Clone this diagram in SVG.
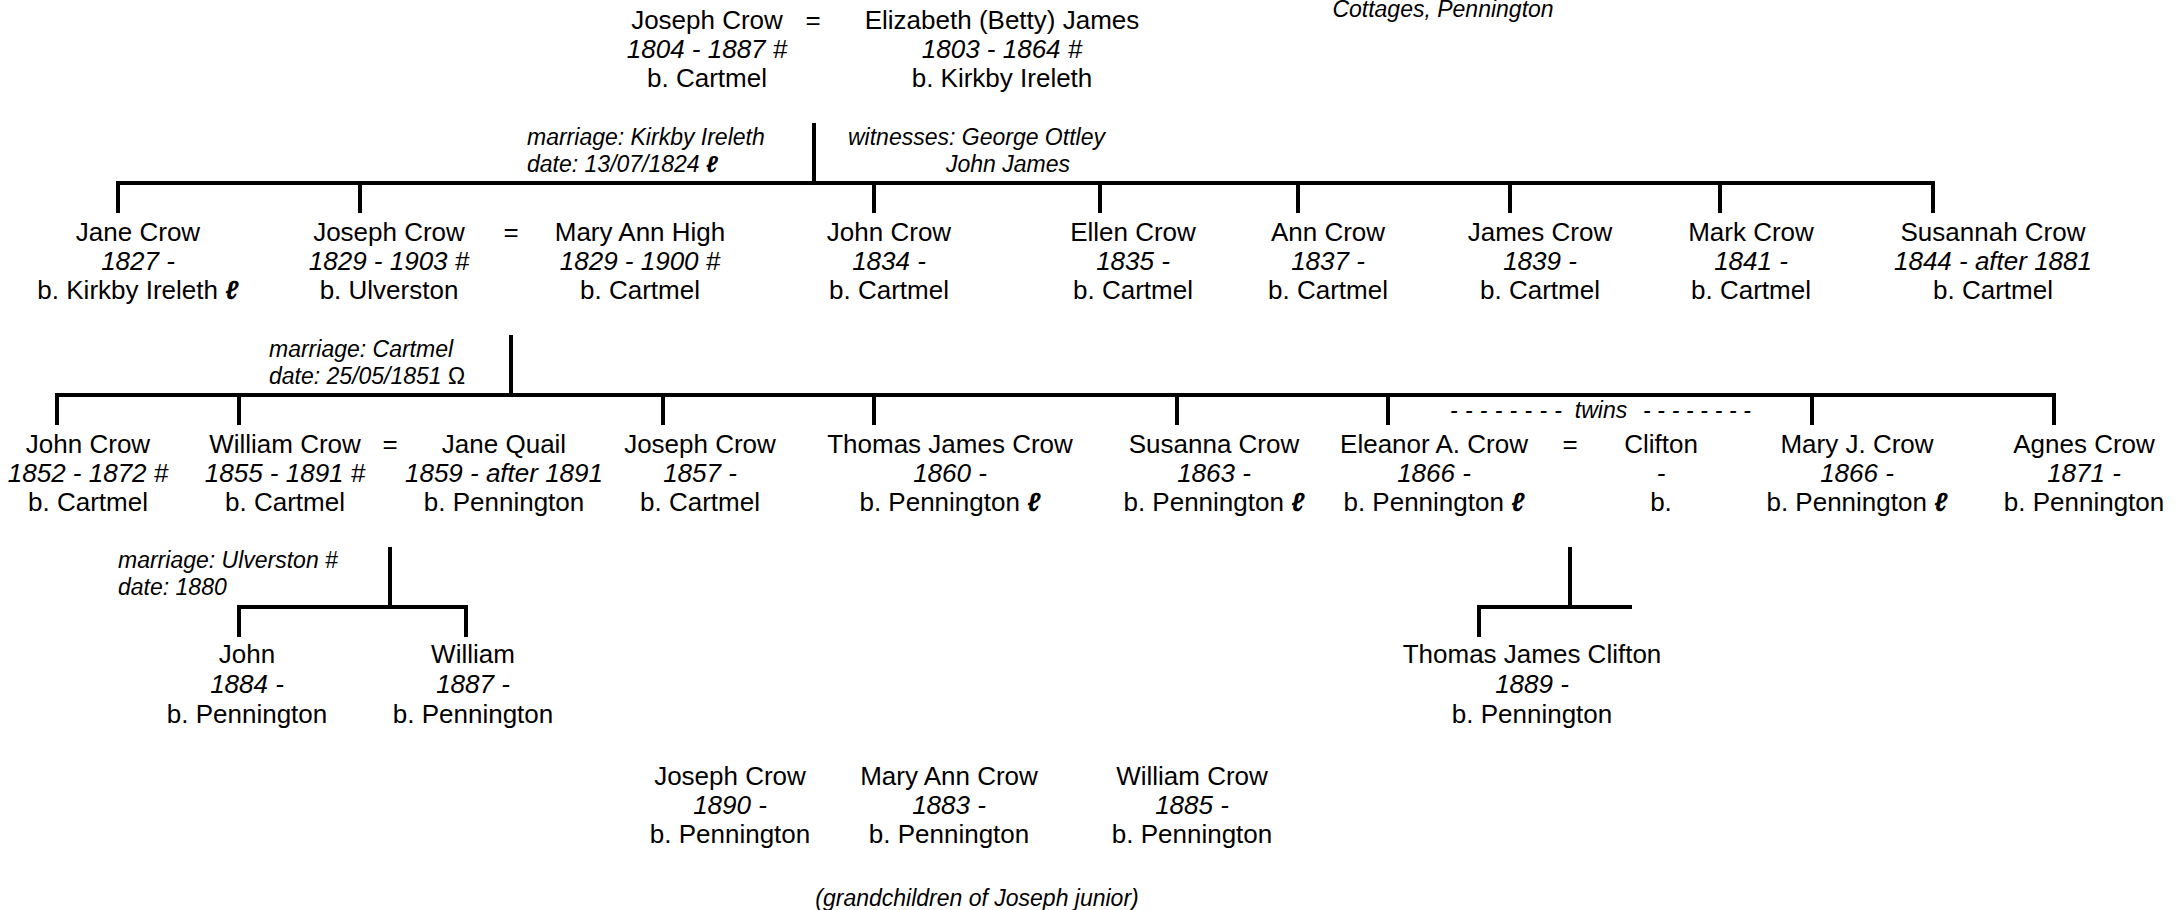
<svg xmlns="http://www.w3.org/2000/svg" width="2181" height="910" viewBox="0 0 2181 910">
<style>
text{font-family:"Liberation Sans",Arial,sans-serif;fill:#000}
.n{font-size:26px;text-anchor:middle}
.i{font-style:italic}
.l{font-size:23px;font-style:italic}
.c{text-anchor:middle}
.s{font-weight:bold;font-style:italic}
.up{font-style:normal}
#connectors line{stroke:#000;stroke-width:4;stroke-linecap:square}
</style>
<rect width="2181" height="910" fill="#fff"/>
<g id="connectors">
<line x1="814" y1="125" x2="814" y2="183"/>
<line x1="118" y1="183" x2="1933" y2="183"/>
<line x1="118" y1="183" x2="118" y2="211"/>
<line x1="360" y1="183" x2="360" y2="211"/>
<line x1="874" y1="183" x2="874" y2="211"/>
<line x1="1100" y1="183" x2="1100" y2="211"/>
<line x1="1298" y1="183" x2="1298" y2="211"/>
<line x1="1510" y1="183" x2="1510" y2="211"/>
<line x1="1720" y1="183" x2="1720" y2="211"/>
<line x1="1933" y1="183" x2="1933" y2="211"/>
<line x1="511" y1="337" x2="511" y2="395"/>
<line x1="57" y1="395" x2="2054" y2="395"/>
<line x1="57" y1="395" x2="57" y2="423"/>
<line x1="239" y1="395" x2="239" y2="423"/>
<line x1="663" y1="395" x2="663" y2="423"/>
<line x1="874" y1="395" x2="874" y2="423"/>
<line x1="1177" y1="395" x2="1177" y2="423"/>
<line x1="1388" y1="395" x2="1388" y2="423"/>
<line x1="1812" y1="395" x2="1812" y2="423"/>
<line x1="2054" y1="395" x2="2054" y2="423"/>
<line x1="390" y1="549" x2="390" y2="607"/>
<line x1="239" y1="607" x2="466" y2="607"/>
<line x1="239" y1="607" x2="239" y2="635"/>
<line x1="466" y1="607" x2="466" y2="635"/>
<line x1="1570" y1="549" x2="1570" y2="607"/>
<line x1="1479" y1="607" x2="1630" y2="607"/>
<line x1="1479" y1="607" x2="1479" y2="635"/>
</g>
<g id="labels">
<text class="l" x="1443" y="17" text-anchor="middle">Cottages, Pennington</text>
<text class="l" x="527" y="145">marriage: Kirkby Ireleth</text>
<text class="l" x="527" y="172">date: 13/07/1824 <tspan class="s">ℓ</tspan></text>
<text class="l" x="848" y="145">witnesses: George Ottley</text>
<text class="l c" x="1008" y="172">John James</text>
<text class="l" x="269" y="357">marriage: Cartmel</text>
<text class="l" x="269" y="384">date: 25/05/1851 <tspan class="up">Ω</tspan></text>
<text class="l" x="118" y="568">marriage: Ulverston #</text>
<text class="l" x="118" y="595">date: 1880</text>
<text class="l" x="1450" y="418" font-style="normal" textLength="112" lengthAdjust="spacing">- - - - - - - -</text>
<text class="l c" x="1601" y="418">twins</text>
<text class="l" x="1643" y="418" font-style="normal" textLength="108" lengthAdjust="spacing">- - - - - - - -</text>
<text class="l c" x="977" y="906">(grandchildren of Joseph junior)</text>
</g>
<g id="joseph-sr"><text class="n" x="707" y="29">Joseph Crow</text><text class="n i" x="707" y="58">1804 - 1887 #</text><text class="n" x="707" y="87">b. Cartmel</text></g>
<g id="eq1"><text class="n" x="813" y="29">=</text></g>
<g id="elizabeth"><text class="n" x="1002" y="29">Elizabeth (Betty) James</text><text class="n i" x="1002" y="58">1803 - 1864 #</text><text class="n" x="1002" y="87">b. Kirkby Ireleth</text></g>

<g id="jane"><text class="n" x="138" y="241">Jane Crow</text><text class="n i" x="138" y="270">1827 -</text><text class="n" x="138" y="299">b. Kirkby Ireleth <tspan class="s">ℓ</tspan></text></g>
<g id="joseph-jr"><text class="n" x="389" y="241">Joseph Crow</text><text class="n i" x="389" y="270">1829 - 1903 #</text><text class="n" x="389" y="299">b. Ulverston</text></g>
<g id="eq2"><text class="n" x="511" y="241">=</text></g>
<g id="maryann-high"><text class="n" x="640" y="241">Mary Ann High</text><text class="n i" x="640" y="270">1829 - 1900 #</text><text class="n" x="640" y="299">b. Cartmel</text></g>
<g id="john-1834"><text class="n" x="889" y="241">John Crow</text><text class="n i" x="889" y="270">1834 -</text><text class="n" x="889" y="299">b. Cartmel</text></g>
<g id="ellen"><text class="n" x="1133" y="241">Ellen Crow</text><text class="n i" x="1133" y="270">1835 -</text><text class="n" x="1133" y="299">b. Cartmel</text></g>
<g id="ann"><text class="n" x="1328" y="241">Ann Crow</text><text class="n i" x="1328" y="270">1837 -</text><text class="n" x="1328" y="299">b. Cartmel</text></g>
<g id="james"><text class="n" x="1540" y="241">James Crow</text><text class="n i" x="1540" y="270">1839 -</text><text class="n" x="1540" y="299">b. Cartmel</text></g>
<g id="mark"><text class="n" x="1751" y="241">Mark Crow</text><text class="n i" x="1751" y="270">1841 -</text><text class="n" x="1751" y="299">b. Cartmel</text></g>
<g id="susannah"><text class="n" x="1993" y="241">Susannah Crow</text><text class="n i" x="1993" y="270">1844 - after 1881</text><text class="n" x="1993" y="299">b. Cartmel</text></g>

<g id="john-1852"><text class="n" x="88" y="453">John Crow</text><text class="n i" x="88" y="482">1852 - 1872 #</text><text class="n" x="88" y="511">b. Cartmel</text></g>
<g id="william-1855"><text class="n" x="285" y="453">William Crow</text><text class="n i" x="285" y="482">1855 - 1891 #</text><text class="n" x="285" y="511">b. Cartmel</text></g>
<g id="eq3"><text class="n" x="390" y="453">=</text></g>
<g id="jane-quail"><text class="n" x="504" y="453">Jane Quail</text><text class="n i" x="504" y="482">1859 - after 1891</text><text class="n" x="504" y="511">b. Pennington</text></g>
<g id="joseph-1857"><text class="n" x="700" y="453">Joseph Crow</text><text class="n i" x="700" y="482">1857 -</text><text class="n" x="700" y="511">b. Cartmel</text></g>
<g id="thomas-james"><text class="n" x="950" y="453">Thomas James Crow</text><text class="n i" x="950" y="482">1860 -</text><text class="n" x="950" y="511">b. Pennington <tspan class="s">ℓ</tspan></text></g>
<g id="susanna"><text class="n" x="1214" y="453">Susanna Crow</text><text class="n i" x="1214" y="482">1863 -</text><text class="n" x="1214" y="511">b. Pennington <tspan class="s">ℓ</tspan></text></g>
<g id="eleanor"><text class="n" x="1434" y="453">Eleanor A. Crow</text><text class="n i" x="1434" y="482">1866 -</text><text class="n" x="1434" y="511">b. Pennington <tspan class="s">ℓ</tspan></text></g>
<g id="eq4"><text class="n" x="1570" y="453">=</text></g>
<g id="clifton"><text class="n" x="1661" y="453">Clifton</text><text class="n i" x="1661" y="482">-</text><text class="n" x="1661" y="511">b.</text></g>
<g id="mary-j"><text class="n" x="1857" y="453">Mary J. Crow</text><text class="n i" x="1857" y="482">1866 -</text><text class="n" x="1857" y="511">b. Pennington <tspan class="s">ℓ</tspan></text></g>
<g id="agnes"><text class="n" x="2084" y="453">Agnes Crow</text><text class="n i" x="2084" y="482">1871 -</text><text class="n" x="2084" y="511">b. Pennington</text></g>

<g id="john-1884"><text class="n" x="247" y="663">John</text><text class="n i" x="247" y="693">1884 -</text><text class="n" x="247" y="723">b. Pennington</text></g>
<g id="william-1887"><text class="n" x="473" y="663">William</text><text class="n i" x="473" y="693">1887 -</text><text class="n" x="473" y="723">b. Pennington</text></g>
<g id="thomas-james-clifton"><text class="n" x="1532" y="663">Thomas James Clifton</text><text class="n i" x="1532" y="693">1889 -</text><text class="n" x="1532" y="723">b. Pennington</text></g>

<g id="joseph-1890"><text class="n" x="730" y="785">Joseph Crow</text><text class="n i" x="730" y="814">1890 -</text><text class="n" x="730" y="843">b. Pennington</text></g>
<g id="maryann-1883"><text class="n" x="949" y="785">Mary Ann Crow</text><text class="n i" x="949" y="814">1883 -</text><text class="n" x="949" y="843">b. Pennington</text></g>
<g id="william-1885"><text class="n" x="1192" y="785">William Crow</text><text class="n i" x="1192" y="814">1885 -</text><text class="n" x="1192" y="843">b. Pennington</text></g>
</svg>
